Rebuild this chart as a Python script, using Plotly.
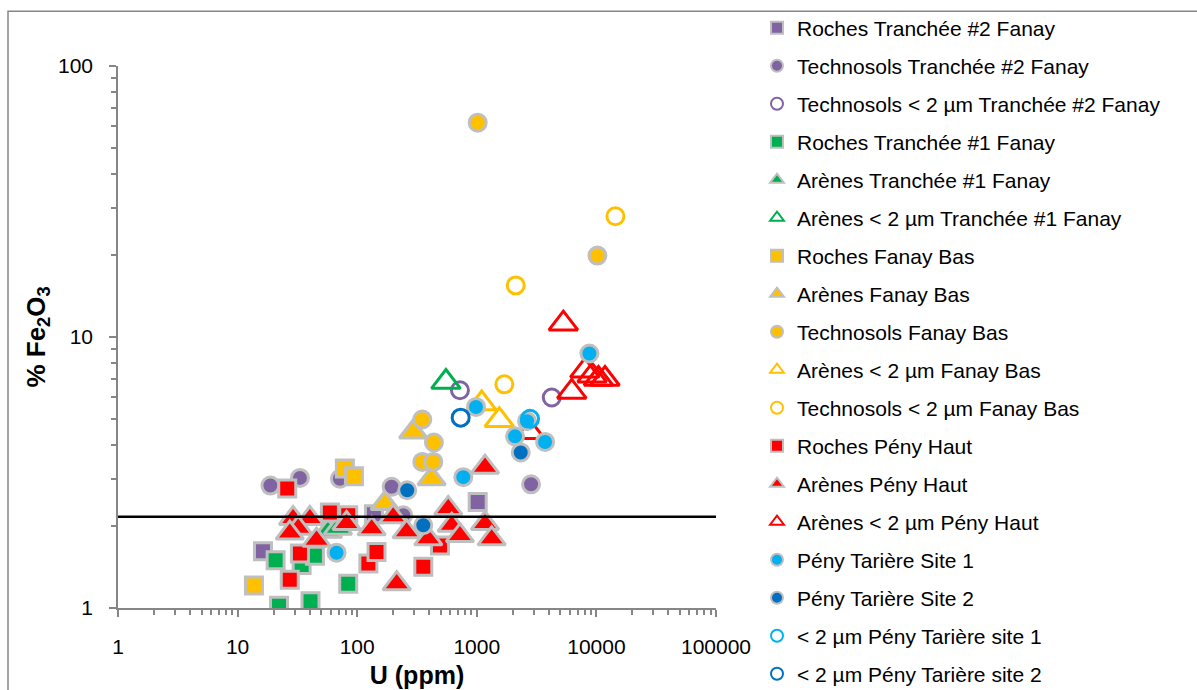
import plotly.graph_objects as go

GREY = "#BFBFBF"
PURPLE = "#8064A2"
GREEN = "#00B050"
YELLOW = "#FFC000"
RED = "#FF0000"
LBLUE = "#00B0F0"
DBLUE = "#0070C0"

# ---- data (U ppm, % Fe2O3) ----
roches_t2_u = [16.3, 138, 1017]
roches_t2_fe = [1.62, 2.22, 2.46]

techno_t2_u = [18.8, 33.2, 71.7, 194, 243, 2842]
techno_t2_fe = [2.83, 3.02, 3.00, 2.80, 2.20, 2.86]

techno2um_t2_u = [723, 4235]
techno2um_t2_fe = [6.36, 5.98]

roches_t1_u = [20.8, 22.2, 40.7, 84.1, 34.3, 44.3]
roches_t1_fe = [1.50, 1.02, 1.06, 1.23, 1.44, 1.56]

arenes_t1_u = [56.9, 69.0]
arenes_t1_fe = [1.92, 1.97]

arenes2um_t1_u = [552]
arenes2um_t1_fe = [6.82]

roches_fb_u = [13.7, 78.9, 93.9]
roches_fb_fe = [1.21, 3.27, 3.06]

arenes_fb_u = [294, 419, 170]
arenes_fb_fe = [4.46, 3.00, 2.43]

techno_fb_u = [1017, 10195, 350, 438, 350, 433]
techno_fb_fe = [61.8, 19.97, 4.96, 4.08, 3.46, 3.46]

arenes2um_fb_u = [1099, 1543]
arenes2um_fb_fe = [5.68, 4.93]

techno2um_fb_u = [14420, 2116, 1699]
techno2um_fb_fe = [27.9, 15.5, 6.69]

roches_ph_u = [26.0, 33.2, 27.3, 59.1, 84.1, 124, 145, 357, 492]
roches_ph_fe = [2.76, 1.59, 1.27, 2.25, 2.20, 1.46, 1.61, 1.42, 1.70]

arenes_ph_u = [29.1, 40.2, 32.1, 45.7, 81.5, 132, 200, 259, 393, 577, 617, 723,
               1171, 1332, 214, 1171, 27.3]
arenes_ph_fe = [2.14, 2.14, 1.97, 1.78, 2.05, 1.96, 2.17, 1.91, 1.80, 2.33, 2.02, 1.85,
                2.05, 1.80, 1.23, 3.31, 1.89]

arenes2um_ph_u = [5294, 6225, 8000, 9200, 10400, 11800, 2787]
arenes2um_ph_fe = [11.2, 6.27, 7.5, 7.2, 7.0, 7.0, 4.45]

tariere1_u = [8740, 985, 2630, 2088, 3722, 771, 67.2]
tariere1_fe = [8.69, 5.52, 4.89, 4.30, 4.10, 3.04, 1.60]

tariere2_u = [2330, 262, 357]
tariere2_fe = [3.75, 2.72, 2.02]

tariere1_2um_u = [2787]
tariere1_2um_fe = [4.99]

tariere2_2um_u = [733]
tariere2_2um_fe = [5.04]

threshold_fe = 2.17

series = [
    ("Roches Tranchée #2 Fanay", roches_t2_u, roches_t2_fe, "square", PURPLE, False),
    ("Technosols Tranchée #2 Fanay", techno_t2_u, techno_t2_fe, "circle", PURPLE, False),
    ("Technosols < 2 µm Tranchée #2 Fanay", techno2um_t2_u, techno2um_t2_fe, "circle", PURPLE, True),
    ("Roches Tranchée #1 Fanay", roches_t1_u, roches_t1_fe, "square", GREEN, False),
    ("Arènes Tranchée #1 Fanay", arenes_t1_u, arenes_t1_fe, "triangle-up", GREEN, False),
    ("Arènes < 2 µm Tranchée #1 Fanay", arenes2um_t1_u, arenes2um_t1_fe, "triangle-up", GREEN, True),
    ("Roches Fanay Bas", roches_fb_u, roches_fb_fe, "square", YELLOW, False),
    ("Arènes Fanay Bas", arenes_fb_u, arenes_fb_fe, "triangle-up", YELLOW, False),
    ("Technosols Fanay Bas", techno_fb_u, techno_fb_fe, "circle", YELLOW, False),
    ("Arènes < 2 µm Fanay Bas", arenes2um_fb_u, arenes2um_fb_fe, "triangle-up", YELLOW, True),
    ("Technosols < 2 µm Fanay Bas", techno2um_fb_u, techno2um_fb_fe, "circle", YELLOW, True),
    ("Roches Pény Haut", roches_ph_u, roches_ph_fe, "square", RED, False),
    ("Arènes Pény Haut", arenes_ph_u, arenes_ph_fe, "triangle-up", RED, False),
    ("Arènes < 2 µm Pény Haut", arenes2um_ph_u, arenes2um_ph_fe, "triangle-up", RED, True),
    ("Pény Tarière Site 1", tariere1_u, tariere1_fe, "circle", LBLUE, False),
    ("Pény Tarière Site 2", tariere2_u, tariere2_fe, "circle", DBLUE, False),
    ("< 2 µm Pény Tarière site 1", tariere1_2um_u, tariere1_2um_fe, "circle", LBLUE, True),
    ("< 2 µm Pény Tarière site 2", tariere2_2um_u, tariere2_2um_fe, "circle", DBLUE, True),
]

fig = go.Figure()
for i, (name, xs, ys, sym, col, is_open) in enumerate(series):
    tri = sym.startswith("triangle")
    if is_open:
        marker = dict(symbol=sym + "-open", size=25 if tri else 17,
                      color=col, line=dict(color=col, width=3))
    else:
        marker = dict(symbol=sym, size=24 if tri else 17, color=col,
                      line=dict(color=GREY, width=3))
    fig.add_trace(go.Scatter(x=xs, y=ys, mode="markers", name=name,
                             marker=marker, legendgroup=f"g{i}"))

# threshold line
fig.add_shape(type="line", xref="paper", x0=0, x1=1, yref="y",
              y0=threshold_fe, y1=threshold_fe, line=dict(color="black", width=2.5))

# outer chart frame (left/top visible)
fig.add_shape(type="rect", xref="paper", yref="paper",
              x0=(8 - 118) / 598, x1=(1210 - 118) / 598,
              y0=(607.7 - 700) / 542, y1=(607.7 - 11) / 542,
              line=dict(color="#868686", width=1.5), layer="below")

AX = "#868686"
FONT = "Arial, Liberation Sans, sans-serif"
fig.update_layout(
    width=1197, height=690,
    margin=dict(l=118, r=481, t=66, b=82, autoexpand=False),
    paper_bgcolor="white", plot_bgcolor="white",
    font=dict(family=FONT, color="black", size=21),
    showlegend=True,
    legend=dict(x=(757 - 118) / 598, y=0.989, xref="paper", yref="container",
                xanchor="left", yanchor="top", maxheight=1,
                font=dict(size=21, family=FONT, color="black"),
                traceorder="grouped", tracegroupgap=7.7, itemsizing="constant",
                bgcolor="rgba(0,0,0,0)"),
    xaxis=dict(type="log", range=[0, 5], showgrid=False, zeroline=False,
               showline=True, linecolor=AX, linewidth=1.5, automargin=False,
               ticks="outside", ticklen=7, tickcolor=AX, tickwidth=1.5,
               tickvals=[1, 10, 100, 1000, 10000, 100000],
               ticktext=["1", "10", "100", "1000", "10000", "100000"],
               tickfont=dict(size=21), ticklabelstandoff=12,
               minor=dict(ticks="outside", ticklen=5, tickcolor=AX, tickwidth=1.5,
                          dtick="D1", showgrid=False),
               title=dict(text="<b>U (ppm)</b>", font=dict(size=25), standoff=10)),
    yaxis=dict(type="log", range=[0, 2], showgrid=False, zeroline=False,
               showline=True, linecolor=AX, linewidth=1.5, automargin=False,
               ticks="outside", ticklen=7, tickcolor=AX, tickwidth=1.5,
               tickvals=[1, 10, 100], ticktext=["1", "10", "100"],
               tickfont=dict(size=21), ticklabelstandoff=12,
               minor=dict(ticks="outside", ticklen=5, tickcolor=AX, tickwidth=1.5,
                          dtick="D1", showgrid=False),
               title=dict(text="<b>% Fe<sub>2</sub>O<sub>3</sub></b>", font=dict(size=26),
                          standoff=5)),
)

fig.write_html("out.html", config={"displayModeBar": False},
               post_script="document.body.style.margin='0px';")
